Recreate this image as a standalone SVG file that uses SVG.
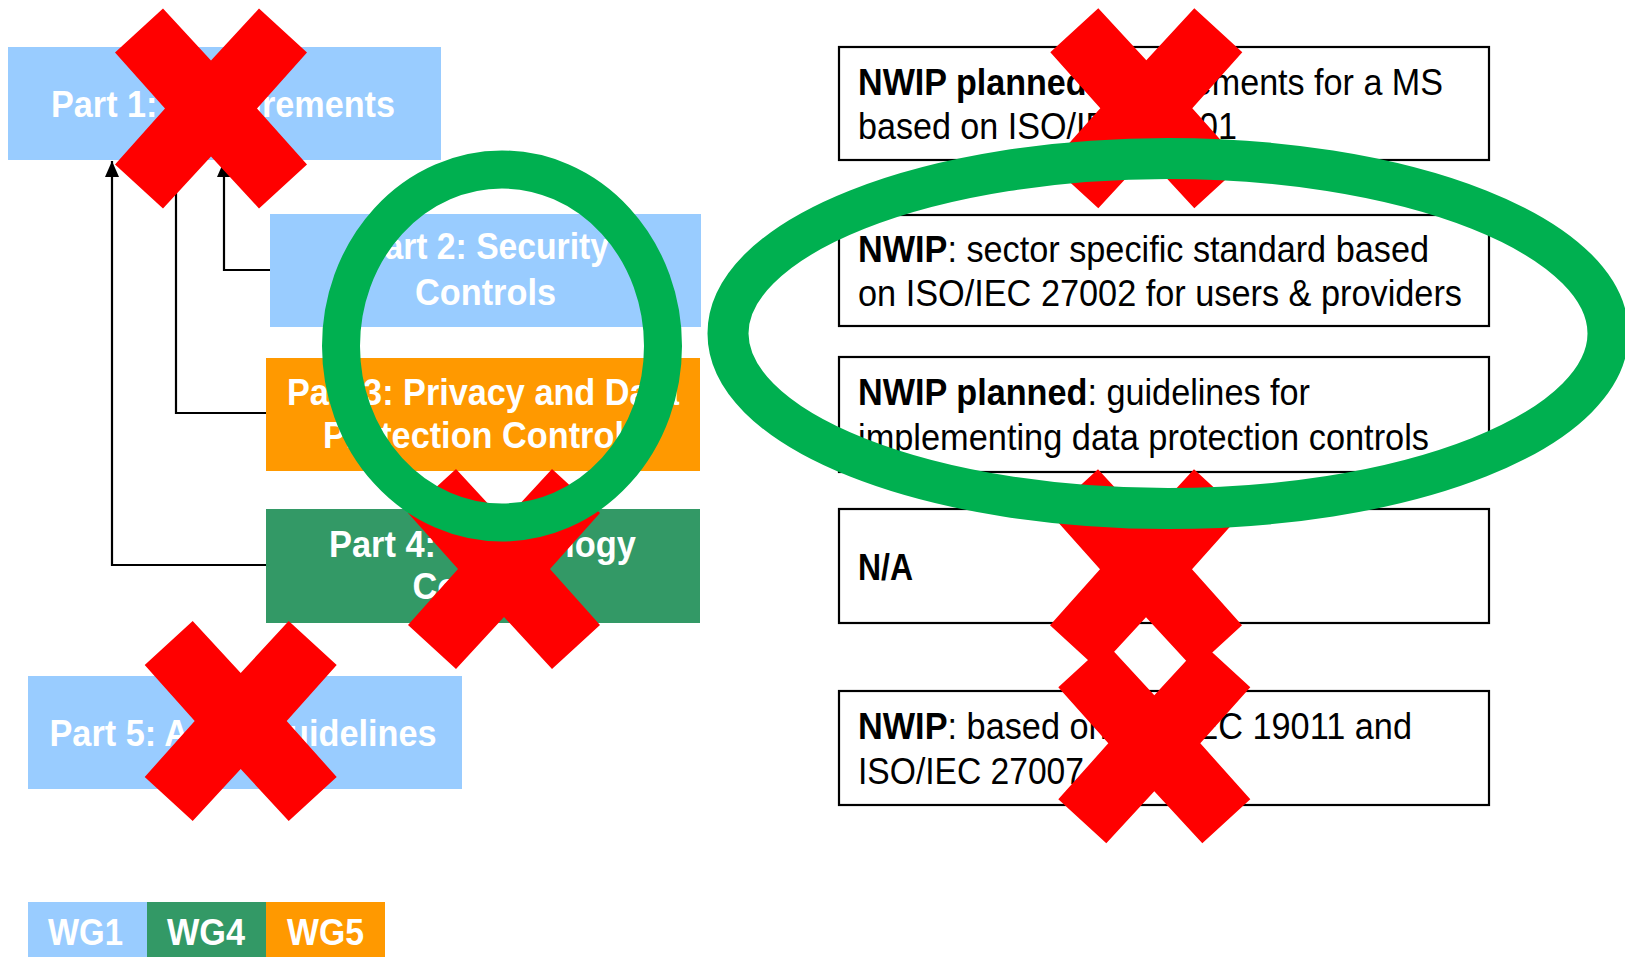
<svg xmlns="http://www.w3.org/2000/svg" xmlns:xlink="http://www.w3.org/1999/xlink" width="1625" height="957" viewBox="0 0 1625 957">
<style>
.lt{font-family:"Liberation Sans",Arial,sans-serif;font-weight:bold;font-size:37px;fill:#fff;text-anchor:middle}
.rt{font-family:"Liberation Sans",Arial,sans-serif;font-size:36px;fill:#000}
.b{font-weight:bold}
.rbox{fill:#fff;stroke:#000;stroke-width:2.2}
.conn{fill:none;stroke:#000;stroke-width:2.2}
.blue{fill:#99CCFF}.orange{fill:#FF9900}.green{fill:#339966}
.xmark{fill:#FF0000}
.ring{fill:none;stroke:#00B050}
</style>
<defs>
<marker id="arr" markerUnits="userSpaceOnUse" markerWidth="16" markerHeight="14" refX="16" refY="7" orient="auto">
<path d="M0,0 L16,7 L0,14 z" fill="#000"/>
</marker>
<path id="x" d="M-48,-100 L0,-48 L48,-100 L96,-56 L46,0 L96,56 L48,100 L0,48 L-48,100 L-96,56 L-46,0 L-96,-56 Z"/>
</defs>
<rect width="1625" height="957" fill="#fff"/>

<g id="connectors">
<path class="conn" d="M270,270 H224 V161" marker-end="url(#arr)"/>
<path class="conn" d="M266,413 H176 V161" marker-end="url(#arr)"/>
<path class="conn" d="M266,565 H112 V161" marker-end="url(#arr)"/>
</g>

<g id="part1"><rect class="blue" x="8" y="47" width="433" height="113"/>
<text class="lt" x="223" y="117" textLength="344" lengthAdjust="spacingAndGlyphs">Part 1: Requirements</text></g>
<g id="part2"><rect class="blue" x="270" y="214" width="431" height="113"/>
<text class="lt" x="485.5" y="259" textLength="247" lengthAdjust="spacingAndGlyphs">Part 2: Security</text>
<text class="lt" x="485.5" y="305" textLength="141" lengthAdjust="spacingAndGlyphs">Controls</text></g>
<g id="part3"><rect class="orange" x="266" y="358" width="434" height="113"/>
<text class="lt" x="483" y="405" textLength="392" lengthAdjust="spacingAndGlyphs">Part 3: Privacy and Data</text>
<text class="lt" x="483" y="448" textLength="320" lengthAdjust="spacingAndGlyphs">Protection Controls</text></g>
<g id="part4"><rect class="green" x="266" y="509" width="434" height="114"/>
<text class="lt" x="482.5" y="557" textLength="307" lengthAdjust="spacingAndGlyphs">Part 4: Technology</text>
<text class="lt" x="483" y="599" textLength="141" lengthAdjust="spacingAndGlyphs">Controls</text></g>
<g id="part5"><rect class="blue" x="28" y="676" width="434" height="113"/>
<text class="lt" x="243" y="746" textLength="387" lengthAdjust="spacingAndGlyphs">Part 5: Audit Guidelines</text></g>

<g id="legend">
<rect class="blue" x="28" y="902" width="119" height="55"/>
<rect class="green" x="147" y="902" width="119" height="55"/>
<rect class="orange" x="266" y="902" width="119" height="55"/>
<text class="lt" x="85.5" y="945" textLength="75" lengthAdjust="spacingAndGlyphs">WG1</text>
<text class="lt" x="206" y="945" textLength="78" lengthAdjust="spacingAndGlyphs">WG4</text>
<text class="lt" x="325.5" y="945" textLength="77" lengthAdjust="spacingAndGlyphs">WG5</text>
</g>

<g id="note1"><rect class="rbox" x="839" y="47" width="650" height="113"/>
<text class="rt" x="858" y="95" textLength="585" lengthAdjust="spacingAndGlyphs"><tspan class="b">NWIP planned</tspan>: requirements for a MS</text>
<text class="rt" x="858" y="139" textLength="379" lengthAdjust="spacingAndGlyphs">based on ISO/IEC 27001</text></g>
<g id="note2"><rect class="rbox" x="839" y="215" width="650" height="111"/>
<text class="rt" x="858" y="262" textLength="571" lengthAdjust="spacingAndGlyphs"><tspan class="b">NWIP</tspan>: sector specific standard based</text>
<text class="rt" x="858" y="306" textLength="604" lengthAdjust="spacingAndGlyphs">on ISO/IEC 27002 for users &amp; providers</text></g>
<g id="note3"><rect class="rbox" x="839" y="357" width="650" height="115"/>
<text class="rt" x="858" y="405" textLength="452" lengthAdjust="spacingAndGlyphs"><tspan class="b">NWIP planned</tspan>: guidelines for</text>
<text class="rt" x="858" y="450" textLength="571" lengthAdjust="spacingAndGlyphs">implementing data protection controls</text></g>
<g id="note4"><rect class="rbox" x="839" y="509" width="650" height="114"/>
<text class="rt b" x="858" y="580" textLength="55" lengthAdjust="spacingAndGlyphs">N/A</text></g>
<g id="note5"><rect class="rbox" x="839" y="691" width="650" height="114"/>
<text class="rt" x="858" y="739" textLength="554" lengthAdjust="spacingAndGlyphs"><tspan class="b">NWIP</tspan>: based on ISO/IEC 19011 and</text>
<text class="rt" x="858" y="784" textLength="226" lengthAdjust="spacingAndGlyphs">ISO/IEC 27007</text></g>

<g id="crosses" class="xmark">
<use xlink:href="#x" href="#x" x="211" y="108.5"/>
<use xlink:href="#x" href="#x" x="504" y="569"/>
<use xlink:href="#x" href="#x" x="240.7" y="721"/>
<use xlink:href="#x" href="#x" x="1146.3" y="108.3"/>
<use xlink:href="#x" href="#x" x="1146" y="569.3"/>
<use xlink:href="#x" href="#x" x="1154.3" y="743.3"/>
</g>

<g id="highlights">
<ellipse class="ring" cx="502" cy="346" rx="161" ry="176.5" stroke-width="38"/>
<ellipse class="ring" cx="1168" cy="333.5" rx="440" ry="175" stroke-width="41"/>
</g>
</svg>
